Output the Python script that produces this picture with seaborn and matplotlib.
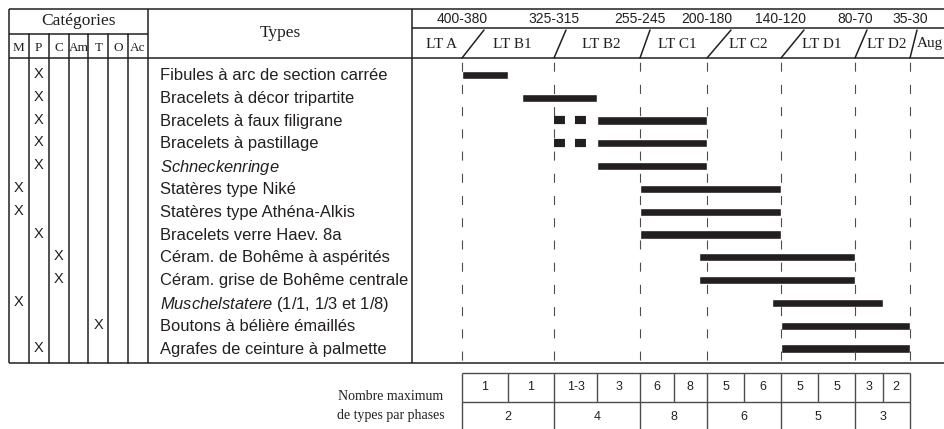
import numpy as np
import matplotlib
matplotlib.use('Agg')
import matplotlib.pyplot as plt
import seaborn as sns

# data
types = ['Fibules à arc de section carrée', 'Bracelets à décor tripartite',
         'Bracelets à faux filigrane', 'Bracelets à pastillage',
         r'$\mathit{Schneckenringe}$', 'Statères type Niké',
         'Statères type Athéna-Alkis', 'Bracelets verre Haev. 8a',
         'Céram. de Bohême à aspérités', 'Céram. grise de Bohême centrale',
         r'$\mathit{Muschelstatere}$ (1/1, 1/3 et 1/8)',
         'Boutons à bélière émaillés', 'Agrafes de ceinture à palmette']
categories = ['M', 'P', 'C', 'Am', 'T', 'O', 'Ac']
type_cat = ['P', 'P', 'P', 'P', 'P', 'M', 'M', 'P', 'C', 'C', 'M', 'T', 'P']

# dates BC
bar_start = [390, 344, 285, 285, 285, 250, 250, 250, 197, 197, 137, 130, 130]
bar_end = [355, 285, 190, 190, 190, 130, 130, 130, 75, 75, 53, 32.5, 32.5]
unsure_start = [np.nan, np.nan, 320, 320, np.nan, np.nan, np.nan, np.nan, np.nan, np.nan, np.nan, np.nan, np.nan]
unsure_end = [np.nan, np.nan, 287, 287, np.nan, np.nan, np.nan, np.nan, np.nan, np.nan, np.nan, np.nan, np.nan]

phase_years = [390, 320, 250, 190, 130, 75, 32.5]
phase_dates = ['400-380', '325-315', '255-245', '200-180', '140-120', '80-70', '35-30']
phase_names = ['LT A', 'LT B1', 'LT B2', 'LT C1', 'LT C2', 'LT D1', 'LT D2', 'Aug']

max_sub = ['1', '1', '1-3', '3', '6', '8', '5', '6', '5', '5', '3', '2']
max_phase = ['2', '4', '8', '6', '5', '3']

sns.set_theme(style='white')
plt.rcParams['font.family'] = ['Liberation Sans', 'DejaVu Sans']
plt.rcParams['mathtext.fontset'] = 'custom'
plt.rcParams['mathtext.it'] = 'Liberation Sans:italic'
plt.rcParams['mathtext.rm'] = 'Liberation Sans'
plt.rcParams['lines.scale_dashes'] = False

INK = '#231f20'
SERIF = 'Liberation Serif'
W, H = 944, 429


def box(x0, y0, x1, y1):
    return [x0 / W, 1 - y1 / H, (x1 - x0) / W, (y1 - y0) / H]


# piecewise time axis (year AD, BC negative -> pixel)
knot_x = np.array([-428, -390, -320, -250, -190, -130, -75, -32.5, -5])
knot_px = np.array([412, 462, 554, 640, 707, 781, 855, 910, 944])


def fwd(x):
    return np.interp(x, knot_x, knot_px)


def inv(p):
    return np.interp(p, knot_px, knot_x)


fig = plt.figure(figsize=(9.44, 4.29), dpi=100)

# canvas for table frame
ax = fig.add_axes([0, 0, 1, 1])
ax.set_xlim(0, W)
ax.set_ylim(H, 0)
ax.axis('off')
lw = 1.1
ax.hlines([9, 58, 363], 9, W, color=INK, lw=lw)
ax.hlines(34, 9, 148, color=INK, lw=lw)
ax.hlines(28, 412, W, color=INK, lw=lw)
ax.vlines([9, 148, 412], 9, 363, color=INK, lw=lw)
ax.text(79, 21, 'Catégories', family=SERIF, fontsize=12.5, ha='center', va='center', color=INK)
ax.text(280, 33, 'Types', family=SERIF, fontsize=12.5, ha='center', va='center', color=INK)

bpx = fwd(-np.array(phase_years))
for p, lab in zip(bpx, phase_dates):
    ax.text(p, 19, lab, fontsize=10, ha='center', va='center', color=INK)
slash_dx = [22, 12, 10, 24, 23, 12, 7]
for p, dx in zip(bpx, slash_dx):
    ax.plot([p, p + dx], [58, 30], color=INK, lw=lw)
edges = [412] + list(bpx)
for k, name in enumerate(phase_names):
    if k < len(edges) - 1:
        ax.text((edges[k] + edges[k + 1]) / 2 + 4, 44, name, family=SERIF, fontsize=11,
                ha='center', va='center', color=INK)
    else:
        ax.text(edges[k] + 7, 44, name, family=SERIF, fontsize=11, ha='left', va='center', color=INK)

ax.text(391, 396, 'Nombre maximum', family=SERIF, fontsize=10, ha='center', va='center', color=INK)
ax.text(391, 415, 'de types par phases', family=SERIF, fontsize=10, ha='center', va='center', color=INK)

rows = np.arange(len(types))
ylims = (12.675, -0.70)

# categories matrix
cax = fig.add_axes(box(9, 58, 148, 363))
cax.patch.set_visible(False)
cax.set_xlim(-0.5, 6.5)
cax.set_ylim(*ylims)
for s in cax.spines.values():
    s.set_visible(False)
for k in range(len(categories) - 1):
    cax.axvline(k + 0.5, ymin=0, ymax=1 + 24 / 305, clip_on=False, color=INK, lw=lw)
for i, c in enumerate(type_cat):
    cax.text(categories.index(c), i, 'X', fontsize=10.5, ha='center', va='center', color=INK)
cax.set_xticks(range(len(categories)), categories, family=SERIF, fontsize=9.5, color=INK)
cax.set_yticks(rows, types, fontsize=11.9, color=INK)
cax.tick_params(axis='x', bottom=False, labelbottom=False, top=False, labeltop=True, length=0, pad=3)
cax.tick_params(axis='y', left=False, labelleft=False, right=False, labelright=True, length=0, pad=8.6)

# time bars
gax = fig.add_axes(box(412, 58, 944, 363))
gax.patch.set_visible(False)
gax.set_xscale('function', functions=(fwd, inv))
gax.set_xlim(-428, -5)
gax.set_ylim(*ylims)
gax.axis('off')
gax.vlines(-np.array(phase_years), ylims[1], ylims[0], colors='#4d4d4f', lw=0.8,
           linestyles=[(13, (6.5, 9.5))])
start = np.array(bar_start)
end = np.array(bar_end)
gax.barh(rows + 0.04, start - end, left=-start, height=0.36, color=INK)
us = np.array(unsure_start)
ue = np.array(unsure_end)
ok = ~np.isnan(us)
lc = gax.hlines(rows[ok] + 0.04, -us[ok], -ue[ok], colors=INK, lw=5.9, linestyles=[(0, (7.9, 7.2))])
lc.set_capstyle('butt')

# bottom table
bax = fig.add_axes(box(412, 373, 944, 431), sharex=gax)
bax.patch.set_visible(False)
bax.set_ylim(2, 0)
bax.axis('off')
py = np.array(phase_years)
mids = (py[:-1] + py[1:]) / 2
bax.hlines([0, 1], -py[0], -py[-1], colors='#4d4d4f', lw=1.0, clip_on=False)
bax.vlines(-py, 0, 2, colors='#4d4d4f', lw=1.0, clip_on=False)
bax.vlines(-mids, 0, 1, colors='#4d4d4f', lw=1.0, clip_on=False)
for k in range(len(py) - 1):
    a, b = py[k], py[k + 1]
    bax.text(-(a + (b - a) / 4), 0.5, max_sub[2 * k], fontsize=9, ha='center', va='center', color=INK)
    bax.text(-(a + 3 * (b - a) / 4), 0.5, max_sub[2 * k + 1], fontsize=9, ha='center', va='center', color=INK)
    bax.text(-mids[k], 1.5, max_phase[k], fontsize=9, ha='center', va='center', color=INK)

fig.savefig('out.png', dpi=100)
